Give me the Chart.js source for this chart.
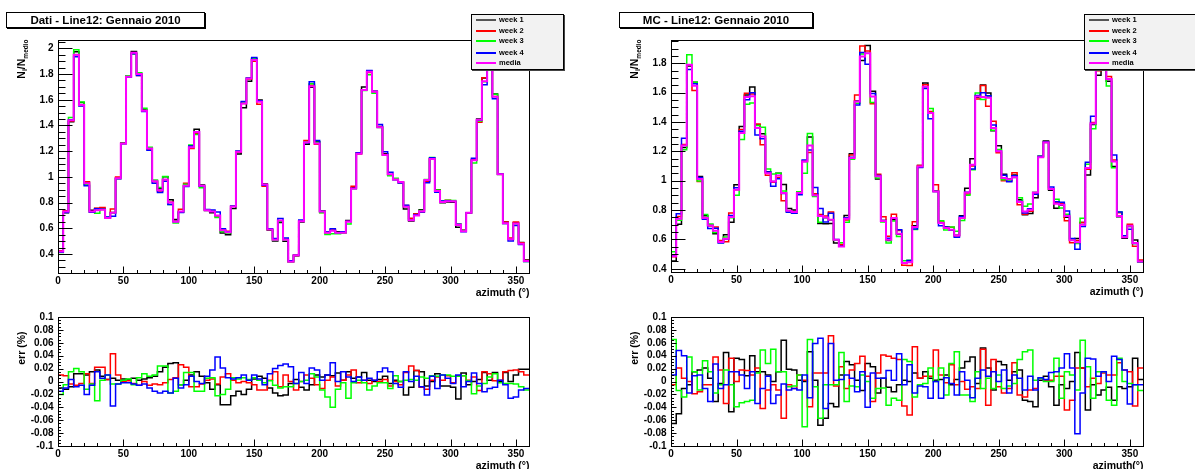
<!DOCTYPE html>
<html>
<head>
<meta charset="utf-8">
<script src="https://cdn.jsdelivr.net/npm/chart.js@4.4.0/dist/chart.umd.min.js"></script>
<style>
  body { margin: 0; background: #fff; width: 1195px; height: 469px; overflow: hidden; position: relative;
         font-family: "Liberation Sans", Arial, sans-serif; }
  canvas { position: absolute; left: 0; top: 0; }
  .title { position: absolute; top: 12px; height: 14px; border: 1px solid #000; box-shadow: 1px 1px 0 #000;
           background: #fff; font-weight: bold; font-size: 11.5px; line-height: 14px; text-align: center; white-space: nowrap; }
  .legend { position: absolute; top: 14px; height: 54px; border: 1px solid #000; box-shadow: 1px 1px 0 #444; background: #f2f2f2; }
  .legend div { position: absolute; left: 4px; height: 10px; font-weight: bold; font-size: 7.5px; line-height: 10px; white-space: nowrap; }
  .legend span { display: inline-block; width: 20px; height: 0; border-top: 2px solid; vertical-align: middle; margin-right: 3px; }
</style>
</head>
<body>
<script>
"use strict";

// azimuth histograms: 90 bins of 4 degrees
const BIN_WIDTH = 4;
const AZ_MAX = 360;

const seriesNames = ['week 1', 'week 2', 'week 3', 'week 4', 'media'];
const seriesColors = ['#000000', '#ff0000', '#00ff00', '#0000ff', '#ff00ff'];
const legendSwatch = ['#555555', '#ff0000', '#00ff00', '#0000ff', '#ff00ff'];

// N_i / N_medio, monthly mean
const datiMedia = [
  0.42, 0.73, 1.44, 1.95, 1.56, 0.95, 0.73, 0.74, 0.745, 0.68,
  0.72, 0.99, 1.26, 1.78, 1.965, 1.80, 1.515, 1.22, 0.965, 0.895,
  0.98, 0.80, 0.65, 0.73, 0.93, 1.23, 1.35, 0.93, 0.74, 0.73,
  0.70, 0.585, 0.57, 0.77, 1.195, 1.57, 1.765, 1.91, 1.585, 0.94,
  0.59, 0.51, 0.66, 0.51, 0.34, 0.39, 0.655, 1.27, 1.705, 1.26,
  0.73, 0.565, 0.58, 0.565, 0.565, 0.65, 0.91, 1.18, 1.675, 1.818,
  1.662, 1.387, 1.17, 1.02, 0.98, 0.96, 0.767, 0.663, 0.70, 0.733,
  0.975, 1.14, 0.89, 0.805, 0.81, 0.81, 0.625, 0.577, 0.72, 1.13,
  1.445, 1.745, 1.95, 1.623, 1.02, 0.64, 0.515, 0.637, 0.48, 0.346
];
const mcMedia = [
  0.485, 0.74, 1.24, 1.79, 1.646, 1.011, 0.745, 0.695, 0.659, 0.582,
  0.605, 0.752, 0.938, 1.324, 1.569, 1.575, 1.358, 1.30, 1.05, 0.995,
  1.035, 0.916, 0.795, 0.786, 0.916, 1.13, 1.24, 0.90, 0.76, 0.75,
  0.734, 0.598, 0.552, 0.74, 1.154, 1.54, 1.845, 1.868, 1.573, 1.03,
  0.725, 0.598, 0.745, 0.639, 0.44, 0.445, 0.684, 1.097, 1.64, 1.46,
  0.927, 0.712, 0.678, 0.666, 0.627, 0.745, 0.92, 1.108, 1.573, 1.57,
  1.565, 1.358, 1.2, 1.018, 1.01, 1.024, 0.854, 0.79, 0.802, 0.92,
  1.16, 1.26, 0.943, 0.843, 0.836, 0.76, 0.594, 0.58, 0.70, 1.086,
  1.39, 1.754, 1.88, 1.693, 1.13, 0.76, 0.614, 0.693, 0.575, 0.45
];

// relative deviation of each week from the mean
const datiErrWeek1 = [
  -0.01, -0.012, -0.008, 0.012, 0.012, 0.01, 0.015, 0.018, 0.008, 0.003,
  0.005, 0.002, 0.004, 0.003, 0.005, 0.002, 0.004, 0.006, 0.008, 0.015,
  0.022, 0.028, 0.029, -0.005, 0.002, 0.01, 0.015, 0.008, -0.002, -0.012,
  -0.005, -0.036, -0.036, -0.022, -0.015, -0.02, -0.012, 0.004, 0.008, 0.005,
  -0.01, -0.018, -0.022, -0.021, -0.003, 0.003, -0.009, -0.013, -0.005, 0.010,
  0.007, 0.010, 0.009, 0.013, 0.002, 0.015, 0.005, 0.007, 0.014, 0.002,
  0, 0.003, 0.008, -0.003, 0.002, 0, -0.021, -0.009, 0.017, 0.015,
  -0.007, 0, 0.012, -0.007, -0.007, -0.009, -0.027, 0.013, -0.005, 0,
  0.003, 0.014, 0.002, 0.014, 0, 0.014, 0, 0.010, 0.019, 0.019
];
const datiErrWeek2 = [
  0.01, 0.009, -0.004, -0.006, -0.003, 0.012, -0.003, 0.022, 0.022, 0.003,
  0.043, 0.01, 0, 0.001, -0.003, -0.006, 0, -0.006, -0.004, -0.005,
  -0.002, 0.003, 0.006, 0.026, 0.022, -0.008, -0.008, -0.004, 0.002, 0.004,
  -0.004, 0.007, 0.012, 0.002, -0.002, 0, -0.002, -0.005, -0.013, -0.013,
  0.002, 0.015, -0.008, 0.010, 0, -0.013, 0, 0.010, 0.005, -0.005,
  -0.011, 0.002, 0.007, -0.007, 0.002, 0.010, 0.018, -0.002, 0.002, -0.003,
  0.002, 0, 0.003, -0.007, 0, -0.005, 0.014, 0.024, 0.017, -0.009,
  -0.012, 0.002, 0.007, 0.002, 0.009, -0.002, 0.009, 0.009, 0.002, 0.007,
  -0.014, 0.015, 0.012, 0.001, 0.002, 0.015, 0.017, 0.018, 0.015, 0.010
];
const datiErrWeek3 = [
  -0.02, -0.005, 0.015, 0.02, 0.015, -0.012, -0.004, -0.03, 0.002, 0.01,
  -0.004, -0.004, 0.002, 0.004, -0.005, 0.006, 0.012, 0.008, 0.01, 0.024,
  0.024, -0.018, -0.015, -0.005, 0.014, 0.014, -0.015, -0.015, 0.005, 0.006,
  -0.022, -0.02, -0.012, 0.006, 0.004, 0.006, 0.003, 0.006, 0.002, -0.002,
  0.001, -0.006, -0.01, -0.008, -0.008, -0.003, 0, 0.002, 0.012, 0.007,
  -0.013, -0.024, -0.040, -0.012, -0.002, -0.026, -0.002, 0.002, -0.002, -0.013,
  -0.007, -0.002, -0.002, -0.011, 0.009, 0, 0.002, 0.003, 0.002, 0.007,
  0.005, 0.009, 0.008, 0.010, 0.010, 0.008, 0.008, 0.009, 0.001, -0.019,
  -0.007, -0.003, 0.007, 0.012, -0.002, -0.003, -0.003, -0.004, -0.008, -0.013
];
const datiErrWeek4 = [
  -0.015, -0.01, 0.003, -0.008, -0.006, -0.02, -0.006, 0.015, 0.005, 0.01,
  -0.038, -0.004, -0.002, -0.002, -0.004, -0.006, -0.004, -0.01, -0.015, -0.018,
  -0.015, -0.018, 0.005, -0.01, -0.005, 0.008, 0, -0.003, 0.008, 0.018,
  0.038, 0.021, 0.006, 0.004, 0.006, 0.01, 0.002, 0.01, 0.004, -0.005,
  0.012, 0.02, 0.025, 0.027, 0.023, -0.003, 0.014, -0.003, 0.021, 0.018,
  0.002, 0.010, 0.029, 0, 0.015, 0.007, 0, 0.007, 0.002, 0.005,
  0.002, 0.015, 0.021, 0.015, -0.003, -0.009, 0.015, 0, 0.008, -0.008,
  -0.021, 0.008, -0.011, 0.010, 0.005, -0.003, 0.010, -0.008, 0, 0.013,
  -0.003, -0.016, -0.011, -0.009, 0.002, -0.005, -0.026, -0.024, -0.013, -0.011
];

const mcErrWeek1 = [
  -0.065, -0.050, -0.011, -0.005, 0.015, 0.018, 0.021, 0.005, -0.031, -0.003,
  0.045, -0.047, 0.036, 0.034, 0.009, 0.040, 0.015, 0.015, 0.010, 0,
  0.015, 0.064, 0.019, 0.018, 0.002, 0, 0.046, 0.002, -0.068, -0.057,
  -0.034, -0.039, 0.010, 0.031, 0.026, 0.002, -0.014, 0.028, 0.023, -0.018,
  0.005, -0.009, -0.016, -0.005, 0.002, 0, 0.013, 0.005, 0.015, 0.005,
  0.002, 0.003, 0.010, -0.005, 0.003, 0.021, 0.031, 0.038, -0.003, 0.052,
  0.021, -0.013, 0.031, 0.026, 0.002, 0.015, 0.018, -0.029, -0.031, -0.039,
  0.002, 0.008, -0.008, -0.037, -0.005, -0.011, 0, 0.045, 0.021, -0.044,
  -0.005, -0.021, -0.013, -0.009, -0.029, -0.008, -0.011, -0.008, 0.036, 0.003
];
const mcErrWeek2 = [
  -0.005, 0.021, 0.005, 0, -0.019, -0.016, -0.005, -0.005, 0.038, 0.018,
  -0.034, 0.036, 0, 0.018, 0.017, 0.010, 0.021, -0.042, -0.013, -0.005,
  -0.013, -0.057, -0.005, -0.011, 0.010, 0.002, -0.039, 0.013, 0.013, 0.013,
  0.071, -0.007, 0.023, -0.011, 0.018, 0.028, 0.039, 0.008, -0.031, 0.013,
  0.041, 0.039, 0.036, 0.034, -0.038, -0.052, 0.054, 0.005, 0.008, 0.008,
  0.049, 0.010, -0.002, 0.026, -0.005, 0, -0.012, -0.008, -0.011, 0.050,
  -0.037, 0.034, -0.008, -0.018, -0.011, 0.029, -0.021, -0.024, -0.013, -0.011,
  0.005, 0.002, 0.002, 0.008, 0.008, -0.044, -0.029, 0.021, 0.021, -0.008,
  0.005, -0.003, 0.013, 0.010, 0.010, 0.029, 0.018, 0.015, -0.038, 0.021
];
const mcErrWeek3 = [
  0.065, -0.014, -0.024, 0.038, 0.015, -0.013, 0.032, 0.015, -0.018, -0.005,
  0.018, -0.005, -0.039, -0.033, -0.031, -0.029, 0.013, 0.049, 0.028, 0.050,
  0.015, 0.015, -0.008, -0.007, 0.010, -0.070, 0.065, -0.008, -0.057, -0.005,
  -0.005, -0.005, 0.045, -0.031, -0.007, -0.008, 0.010, 0, -0.026, -0.011,
  -0.010, -0.037, -0.026, -0.029, 0.034, 0.031, -0.024, -0.005, -0.003, 0.021,
  0, 0.021, -0.021, 0.028, 0.046, -0.021, -0.021, -0.031, 0.015, -0.011,
  0.005, -0.011, 0.010, -0.011, -0.007, -0.003, 0.034, 0.046, 0.049, 0.002,
  0.005, 0, 0, 0.036, -0.026, 0.015, 0.010, -0.013, 0.064, 0.023,
  -0.026, 0.015, 0.015, -0.029, -0.037, 0.036, 0, -0.003, -0.005, -0.014
];
const mcErrWeek4 = [
  0.010, 0.048, 0.040, -0.018, 0.009, 0.010, -0.011, -0.031, 0.027, -0.011,
  -0.005, 0.015, 0.015, 0.010, -0.011, 0.015, -0.034, -0.011, 0.008, -0.034,
  -0.021, -0.004, -0.013, -0.011, -0.013, 0.010, -0.025, 0.059, 0.067, -0.042,
  0.059, 0.002, 0.003, 0.010, 0.005, -0.016, 0.015, -0.040, 0.013, 0.005,
  0.005, 0.017, 0.002, 0.043, -0.005, 0.026, -0.018, -0.007, -0.008, -0.026,
  0, -0.026, 0.006, -0.003, -0.021, 0.015, 0.002, -0.025, 0.005, 0.018,
  0.008, 0.015, 0, 0.018, -0.018, 0.010, 0.005, -0.013, 0.008, -0.013,
  0.006, 0.003, 0.014, 0.015, 0.021, 0.043, 0.021, -0.081, -0.018, 0.036,
  0.035, 0.008, 0.015, 0, 0.039, 0.034, 0.018, -0.035, -0.005, -0.005
];

const datiErr = [datiErrWeek1, datiErrWeek2, datiErrWeek3, datiErrWeek4];
const mcErr = [mcErrWeek1, mcErrWeek2, mcErrWeek3, mcErrWeek4];

// bin contents -> step outline, one point per lower edge plus the closing edge
function histPoints(values) {
  let pts = values.map(function(v, i) { return {x: i * BIN_WIDTH, y: v}; });
  pts.push({x: AZ_MAX, y: values[values.length - 1]});
  return pts;
}

// each week's N_i/N_medio: media * (1 + err)
function weekValues(media, err) {
  return media.map(function(m, i) { return m * (1 + err[i]); });
}

function histDataset(values, idx, width) {
  return {
    data: histPoints(values),
    borderColor: seriesColors[idx],
    borderWidth: width,
    stepped: 'before',
    pointRadius: 0,
    fill: false,
    order: idx == 4 ? 0 : 4 - idx
  };
}

// ROOT style frame: box, inward ticks, labels, axis titles
const rootAxes = {
  id: 'rootAxes',
  afterDatasetsDraw(chart, args, o) {
    const ctx = chart.ctx;
    const a = chart.chartArea;
    const x = chart.scales.x, y = chart.scales.y;
    ctx.save();
    ctx.strokeStyle = '#000';
    ctx.lineWidth = 1;
    const L = Math.round(a.left) + 0.5, R = Math.round(a.right) + 0.5;
    const T = Math.round(a.top) + 0.5, B = Math.round(a.bottom) + 0.5;
    ctx.strokeRect(L, T, R - L, B - T);

    ctx.fillStyle = '#000';
    ctx.font = 'bold 10px "Liberation Sans", Arial, sans-serif';
    ctx.beginPath();
    for (let v = 0; v <= AZ_MAX; v += 10) {
      const px = Math.round(x.getPixelForValue(v)) + 0.5;
      const major = v % 50 === 0;
      ctx.moveTo(px, B);
      ctx.lineTo(px, B - (major ? o.xTick : o.xTick / 2));
    }
    const n0 = Math.ceil(y.min / o.yMinor - 1e-6), n1 = Math.floor(y.max / o.yMinor + 1e-6);
    for (let n = n0; n <= n1; n++) {
      const py = Math.round(y.getPixelForValue(n * o.yMinor)) + 0.5;
      const major = n % o.perMajor === 0;
      ctx.moveTo(L, py);
      ctx.lineTo(L + (major ? o.yTick : o.yTick / 2), py);
    }
    ctx.stroke();

    ctx.textAlign = 'center';
    ctx.textBaseline = 'top';
    for (let v = 0; v <= AZ_MAX; v += 50) {
      ctx.fillText(String(v), x.getPixelForValue(v), B + 3);
    }
    ctx.textAlign = 'right';
    ctx.textBaseline = 'middle';
    for (let n = n0; n <= n1; n++) {
      if (n % o.perMajor !== 0) continue;
      const label = String(Number((n * o.yMinor).toFixed(o.decimals)));
      ctx.fillText(label, L - 5, y.getPixelForValue(n * o.yMinor));
    }

    ctx.font = 'bold 10.5px "Liberation Sans", Arial, sans-serif';
    ctx.textAlign = 'right';
    ctx.textBaseline = 'alphabetic';
    ctx.fillText(o.xTitle, R, B + 22);

    // rotated y title, pieces with their own size and baseline shift
    ctx.translate(L - 34, T + o.yTitleEnd);
    ctx.rotate(-Math.PI / 2);
    let total = 0;
    o.yTitle.forEach(function(p) {
      ctx.font = 'bold ' + p.size + 'px "Liberation Sans", Arial, sans-serif';
      total += ctx.measureText(p.t).width;
    });
    let cx = -total;
    ctx.textAlign = 'left';
    o.yTitle.forEach(function(p) {
      ctx.font = 'bold ' + p.size + 'px "Liberation Sans", Arial, sans-serif';
      ctx.fillText(p.t, cx, p.dy || 0);
      cx += ctx.measureText(p.t).width;
    });
    ctx.restore();
  }
};

const ratioTitle = [
  {t: 'N', size: 10.5}, {t: 'i', size: 7, dy: 2.5}, {t: '/N', size: 10.5}, {t: 'medio', size: 6.5, dy: 3}
];
const errTitle = [{t: 'err (%)', size: 10.5}];

function makeChart(datasets, box, yRange, axisOpts) {
  const canvas = document.createElement('canvas');
  canvas.width = 1195;
  canvas.height = 469;
  document.body.appendChild(canvas);
  return new Chart(canvas, {
    type: 'line',
    data: { datasets: datasets },
    options: {
      responsive: false,
      animation: false,
      devicePixelRatio: 1,
      layout: { padding: { left: box.left, top: box.top, right: 1195 - box.right, bottom: 469 - box.bottom } },
      scales: {
        x: { type: 'linear', min: 0, max: AZ_MAX, display: false },
        y: { type: 'linear', min: yRange[0], max: yRange[1], display: false }
      },
      plugins: { legend: { display: false }, tooltip: { enabled: false }, rootAxes: axisOpts }
    },
    plugins: [rootAxes]
  });
}

function ratioSets(media, errs) {
  let sets = errs.map(function(e, i) { return histDataset(weekValues(media, e), i, 1.5); });
  sets.push(histDataset(media, 4, 2));
  return sets;
}

function errSets(errs) {
  return errs.map(function(e, i) { return histDataset(e, i, 1.5); });
}

const topAxis = { xTick: 7, yTick: 14, yMinor: 0.05, perMajor: 4, decimals: 1,
                  xTitle: 'azimuth (\u00b0)', yTitle: ratioTitle, yTitleEnd: -1 };
const errAxis = { xTick: 7, yTick: 5, yMinor: 0.005, perMajor: 4, decimals: 2,
                  xTitle: 'azimuth (\u00b0)', yTitle: errTitle, yTitleEnd: 14 };

makeChart(ratioSets(datiMedia, datiErr), {left: 58, right: 529, top: 40, bottom: 273}, [0.252, 2.065], topAxis);
makeChart(errSets(datiErr), {left: 58, right: 529, top: 317, bottom: 446}, [-0.1, 0.1], errAxis);
makeChart(ratioSets(mcMedia, mcErr), {left: 671, right: 1143, top: 40, bottom: 272}, [0.378, 1.958], topAxis);
makeChart(errSets(mcErr), {left: 671, right: 1143, top: 317, bottom: 446}, [-0.1, 0.1],
          Object.assign({}, errAxis, { xTitle: 'azimuth(\u00b0)' }));

// title boxes and legends
function addTitle(text, left, width) {
  const d = document.createElement('div');
  d.className = 'title';
  d.style.left = left + 'px';
  d.style.width = width + 'px';
  d.textContent = text;
  document.body.appendChild(d);
}

function addLegend(left, width) {
  const box = document.createElement('div');
  box.className = 'legend';
  box.style.left = left + 'px';
  box.style.width = width + 'px';
  const rowTops = [0, 10.7, 21.3, 32.7, 43.3];
  seriesNames.forEach(function(name, i) {
    const row = document.createElement('div');
    row.style.top = rowTops[i] + 'px';
    const sw = document.createElement('span');
    sw.style.borderTopColor = legendSwatch[i];
    row.appendChild(sw);
    row.appendChild(document.createTextNode(name));
    box.appendChild(row);
  });
  document.body.appendChild(box);
}

addTitle('Dati - Line12: Gennaio 2010', 6, 197);
addTitle('MC - Line12: Gennaio 2010', 619, 192);
addLegend(471, 91);
addLegend(1084, 115);
</script>
</body>
</html>
